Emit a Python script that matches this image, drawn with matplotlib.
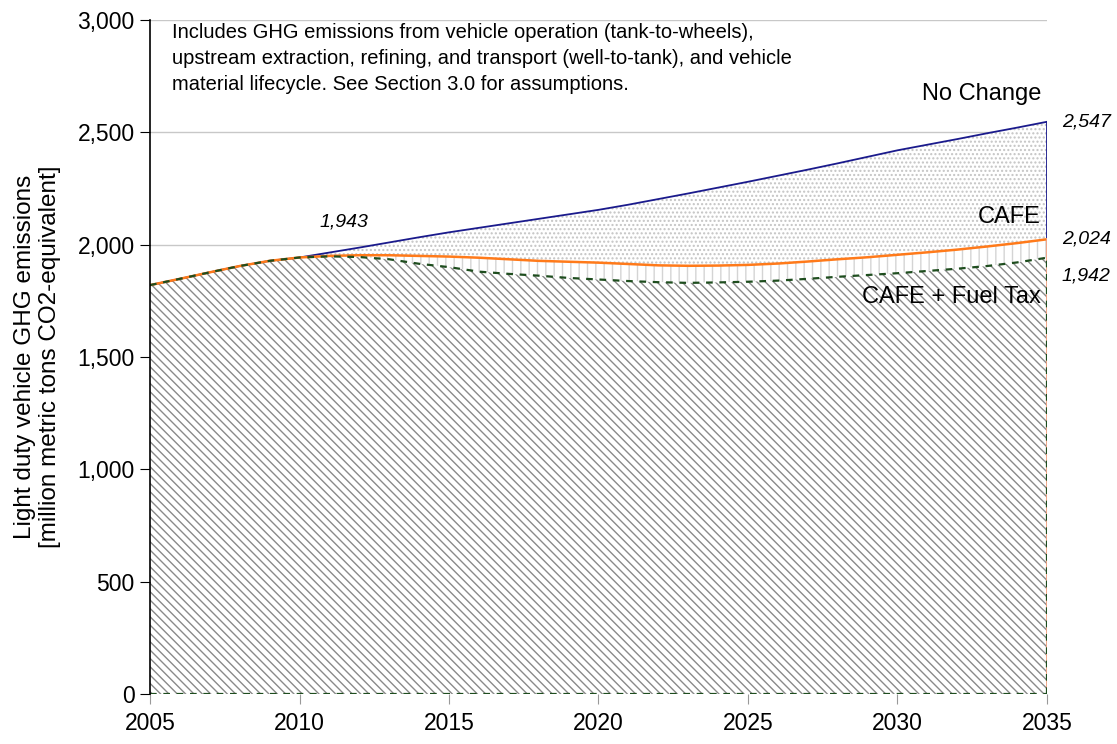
import numpy as np
import matplotlib
matplotlib.use('Agg')
from matplotlib import pyplot as plt

plt.rcParams['font.family'] = ['Liberation Sans', 'DejaVu Sans']
plt.rcParams['hatch.linewidth'] = 1.0

# data (million metric tons CO2-eq)
years = [2005, 2006, 2007, 2008, 2009, 2010, 2011, 2012, 2013, 2014, 2015,
         2016, 2017, 2018, 2019, 2020, 2021, 2022, 2023, 2024, 2025,
         2026, 2027, 2028, 2029, 2030, 2031, 2032, 2033, 2034, 2035]
no_change = [1820, 1848, 1877, 1905, 1928, 1943, 1965, 1987, 2010, 2033, 2055,
             2075, 2095, 2115, 2135, 2155, 2178, 2203, 2228, 2254, 2280,
             2307, 2334, 2362, 2391, 2420, 2445, 2470, 2496, 2521, 2547]
cafe = [1820, 1848, 1877, 1905, 1928, 1943, 1950, 1953, 1953, 1950, 1947,
        1942, 1935, 1928, 1924, 1920, 1914, 1908, 1906, 1907, 1910,
        1916, 1925, 1935, 1944, 1955, 1966, 1978, 1992, 2007, 2024]
cafe_tax = [1820, 1848, 1877, 1905, 1928, 1943, 1948, 1945, 1935, 1915, 1900,
            1880, 1870, 1862, 1852, 1845, 1838, 1833, 1830, 1832, 1835,
            1840, 1848, 1857, 1865, 1873, 1883, 1893, 1905, 1921, 1942]

yticks = [0, 500, 1000, 1500, 2000, 2500, 3000]
xticks = [2005, 2010, 2015, 2020, 2025, 2030, 2035]

note = ('Includes GHG emissions from vehicle operation (tank-to-wheels),\n'
        'upstream extraction, refining, and transport (well-to-tank), and vehicle\n'
        'material lifecycle. See Section 3.0 for assumptions.')

fig = plt.figure(figsize=(11.17, 7.44), dpi=100)
ax = fig.add_axes([0.1343, 0.0672, 0.8030, 0.9059])

x = np.array(years)
nc = np.array(no_change)
cf = np.array(cafe)
tx = np.array(cafe_tax)

# stacked areas, back to front
ax.fill_between(x, cf, nc, facecolor='white', edgecolor='#c4c4c4',
                hatch='....', linewidth=0, zorder=1)
ax.fill_between(x, tx, cf, facecolor='white', edgecolor='#d4d4d4',
                hatch='||', linewidth=0, zorder=1)
ax.fill_between(x, 0, tx, facecolor='white', edgecolor='#8a8a8a',
                hatch='\\\\\\\\', linewidth=0, zorder=1)

# outlines
ax.plot(x, nc, color='#1a1a8c', lw=1.3, zorder=3)
ax.plot([x[-1], x[-1]], [cf[-1], nc[-1]], color='#1a1a8c', lw=1.3, zorder=3)
ax.plot(x, cf, color='#ff7a1a', lw=1.8, zorder=3)
ax.plot([x[-1], x[-1]], [0, cf[-1]], color='#f0a080', lw=1.3, zorder=3)
ax.plot(x, tx, color='#1e4d1e', lw=1.6, ls=(0, (3, 3)), zorder=4)
ax.plot([x[-1], x[-1]], [0, tx[-1]], color='#1e4d1e', lw=1.6, ls=(0, (3, 3)), zorder=4)
ax.plot([x[0], x[-1]], [0, 0], color='#1e4d1e', lw=1.6, ls=(0, (3, 3)), zorder=4)

ax.set_xlim(2005, 2035)
ax.set_ylim(0, 3000)
ax.set_xticks(xticks)
ax.set_yticks(yticks)
ax.set_yticklabels(['{:,}'.format(v) for v in yticks])
ax.tick_params(axis='both', labelsize=16.5, direction='out', length=7)
ax.tick_params(axis='x', color='#999999', pad=6)
ax.tick_params(axis='y', pad=4)

for v in yticks[1:]:
    ax.axhline(v, color='#c8c8c8', lw=1.0, zorder=0)

for s in ['top', 'right', 'bottom']:
    ax.spines[s].set_visible(False)
ax.spines['left'].set_linewidth(1.2)
ax.spines['left'].set_zorder(5)

ax.set_ylabel('Light duty vehicle GHG emissions\n[million metric tons CO2-equivalent]',
              fontsize=17.5, labelpad=12, linespacing=1.15)

ax.text(2005.74, 2988, note, fontsize=14.5, va='top', ha='left', linespacing=1.47)

ax.text(2034.8, 2670, 'No Change', fontsize=17, ha='right', va='center')
ax.text(2034.8, 2123, 'CAFE', fontsize=17, ha='right', va='center', zorder=6)
ax.text(2034.8, 1767, 'CAFE + Fuel Tax', fontsize=17, ha='right', va='center', zorder=6)

ax.text(2035.5, nc[-1], '{:,}'.format(no_change[-1]), fontsize=14, style='italic',
        ha='left', va='center', clip_on=False)
ax.text(2035.5, cf[-1], '{:,}'.format(cafe[-1]), fontsize=14, style='italic',
        ha='left', va='center', clip_on=False)
ax.text(2035.5, 1860, '{:,}'.format(cafe_tax[-1]), fontsize=14, style='italic',
        ha='left', va='center', clip_on=False)
ax.text(2011.5, 2100, '{:,}'.format(no_change[5]), fontsize=14, style='italic',
        ha='center', va='center')

fig.savefig('out.png', dpi=100)
